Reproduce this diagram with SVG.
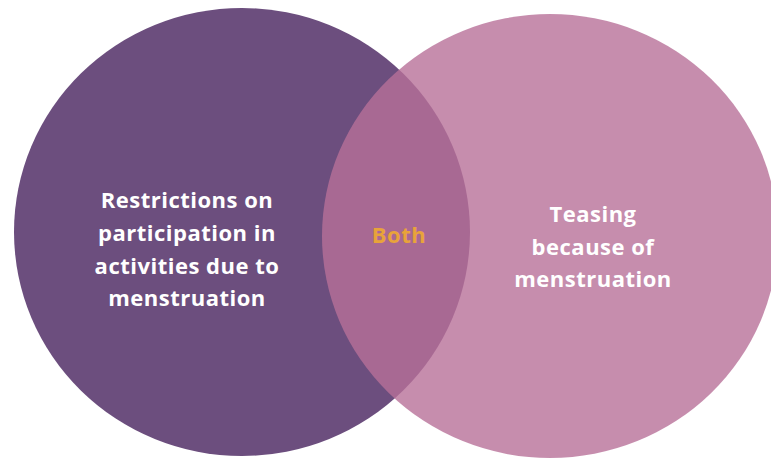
<svg xmlns="http://www.w3.org/2000/svg" width="771" height="459" viewBox="0 0 771 459">
<style>
.lbl{font-family:"Open Sans","Liberation Sans",sans-serif;font-weight:700;font-size:22px;letter-spacing:0.5px;fill:#ffffff;text-anchor:middle}
.both{fill:#E8A33A}
</style>
<rect width="771" height="459" fill="#ffffff"/>
<g id="left">
<ellipse cx="242" cy="232" rx="228" ry="224" fill="#6C4E7E"/>
<text class="lbl" x="187" y="208">Restrictions on</text>
<text class="lbl" x="187" y="241">participation in</text>
<text class="lbl" x="187" y="274">activities due to</text>
<text class="lbl" x="187" y="306">menstruation</text>
</g>
<g id="right">
<ellipse cx="550" cy="236" rx="228" ry="222" fill="#B87098" fill-opacity="0.8"/>
<text class="lbl" x="593" y="222">Teasing</text>
<text class="lbl" x="593" y="255">because of</text>
<text class="lbl" x="593" y="287">menstruation</text>
</g>
<g id="overlap">
<text class="lbl both" x="399" y="243">Both</text>
</g>
<g id="connectors"/>
</svg>
